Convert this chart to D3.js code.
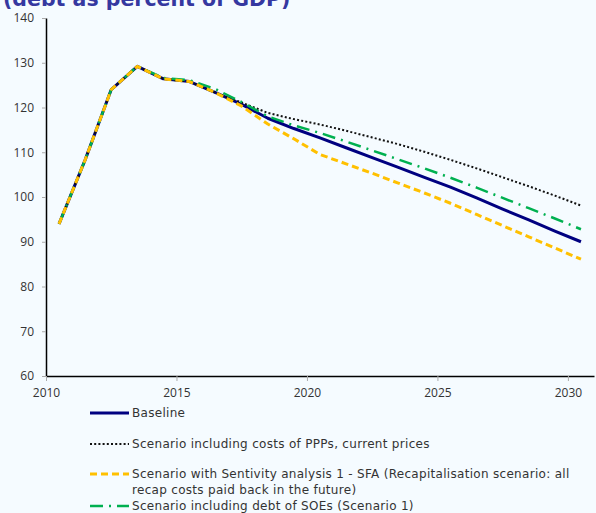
<!DOCTYPE html>
<html>
<head>
<meta charset="utf-8">
<script src="https://cdn.jsdelivr.net/npm/d3@7"></script>
<style>
  body { margin: 0; background: #f5fbff; }
  svg { display: block; font-family: "Open Sans", sans-serif; }
</style>
</head>
<body>
<div id="chart"></div>
<script>
// debt path, percent of GDP
var years = d3.range(2010, 2031);
var baseline = [94, 108.3, 124, 129.2, 126.4, 125.8, 123.3, 120.7, 117.6, 115.3, 113.2,
                111.0, 108.8, 106.6, 104.4, 102.2, 99.8, 97.3, 94.9, 92.4, 90.0];
var pppScenario = [94, 108.3, 124, 129.2, 126.4, 125.8, 123.3, 121.1, 118.8, 117.4, 116.2,
                   114.8, 113.3, 111.8, 110.1, 108.3, 106.4, 104.4, 102.4, 100.3, 98.1];
var sfaScenario = [94, 108.3, 124, 129.2, 126.4, 125.8, 123.3, 120.3, 116.3, 113.0, 109.5,
                   107.4, 105.3, 103.1, 100.9, 98.6, 96.1, 93.6, 91.1, 88.6, 86.1];
var soeScenario = [94, 108.3, 124, 129.2, 126.6, 126.1, 124.1, 121.2, 118.0, 116.0, 114.3,
                   112.4, 110.4, 108.4, 106.4, 104.3, 102.1, 99.8, 97.5, 95.2, 92.8];
var yTicks = [60, 70, 80, 90, 100, 110, 120, 130, 140];
var xTicks = [2010, 2015, 2020, 2025, 2030];

var width = 596, height = 513;
var svg = d3.select("#chart").append("svg")
    .attr("width", width)
    .attr("height", height);

svg.append("rect").attr("width", width).attr("height", height).attr("fill", "#f5fbff");

// title, cut at the top like in the source
svg.append("text")
    .attr("x", 3).attr("y", 6)
    .attr("fill", "#3538a0")
    .attr("font-family", "'DejaVu Sans', sans-serif")
    .attr("font-size", "20.5px")
    .attr("font-weight", "bold")
    .text("(debt as percent of GDP)");

// category axis: each year sits in the middle of its slot
var x = d3.scaleLinear().domain([2010, 2031]).range([46, 594]);
var y = d3.scaleLinear().domain([60, 140]).range([376, 18]);

var yAxis = svg.append("g")
    .attr("transform", "translate(46,0)")
    .call(d3.axisLeft(y).tickValues(yTicks).tickSizeInner(4).tickSizeOuter(0).tickPadding(8));
var xAxis = svg.append("g")
    .attr("transform", "translate(0,376)")
    .call(d3.axisBottom(x).tickValues(xTicks).tickFormat(d3.format("d"))
        .tickSizeInner(5).tickSizeOuter(0).tickPadding(5));

[yAxis, xAxis].forEach(function (ax) {
    ax.select(".domain").attr("stroke", "#000").attr("stroke-width", 1.5);
    ax.selectAll(".tick line").attr("stroke", "#aaa");
    ax.selectAll(".tick text").attr("fill", "#333").attr("font-size", "12px")
        .attr("font-family", "'Open Sans', sans-serif");
});
xAxis.selectAll(".tick text").attr("dy", "0.9em");

var series = [
    {name: "Baseline", values: baseline, color: "#000080", w: 3, dash: null},
    {name: "Scenario including costs of PPPs, current prices", values: pppScenario, color: "#111", w: 2, dash: "2,2.2"},
    {name: "Scenario including debt of SOEs (Scenario 1)", values: soeScenario, color: "#00b050", w: 2.5, dash: "13,6,2,6"},
    {name: "Scenario with Sentivity analysis 1 - SFA (Recapitalisation scenario: all|recap costs paid back in the future)", values: sfaScenario, color: "#ffc000", w: 3, dash: "7,4"}
];

var line = d3.line()
    .x(function (d, i) { return x(years[i] + 0.5); })
    .y(function (d) { return y(d); });

series.forEach(function (s) {
    svg.append("path")
        .datum(s.values)
        .attr("d", line)
        .attr("fill", "none")
        .attr("stroke", s.color)
        .attr("stroke-width", s.w)
        .attr("stroke-dasharray", s.dash)
        .attr("stroke-linejoin", "round");
});

// legend, in the order of the source
var legendOrder = [series[0], series[1], series[3], series[2]];
var legendY = [413, 444, 474, 506];
legendOrder.forEach(function (s, i) {
    var g = svg.append("g").attr("transform", "translate(0," + legendY[i] + ")");
    g.append("line")
        .attr("x1", 90).attr("x2", 129)
        .attr("stroke", s.color)
        .attr("stroke-width", s.w)
        .attr("stroke-dasharray", s.dash);
    var t = g.append("text")
        .attr("x", 132).attr("y", 4)
        .attr("fill", "#333")
        .attr("font-family", "'DejaVu Sans', sans-serif")
        .attr("font-size", "12px")
        .attr("letter-spacing", "0.3px");
    s.name.split("|").forEach(function (part, k) {
        t.append("tspan").attr("x", 132).attr("dy", k === 0 ? 0 : 16).text(part);
    });
});
</script>
</body>
</html>
